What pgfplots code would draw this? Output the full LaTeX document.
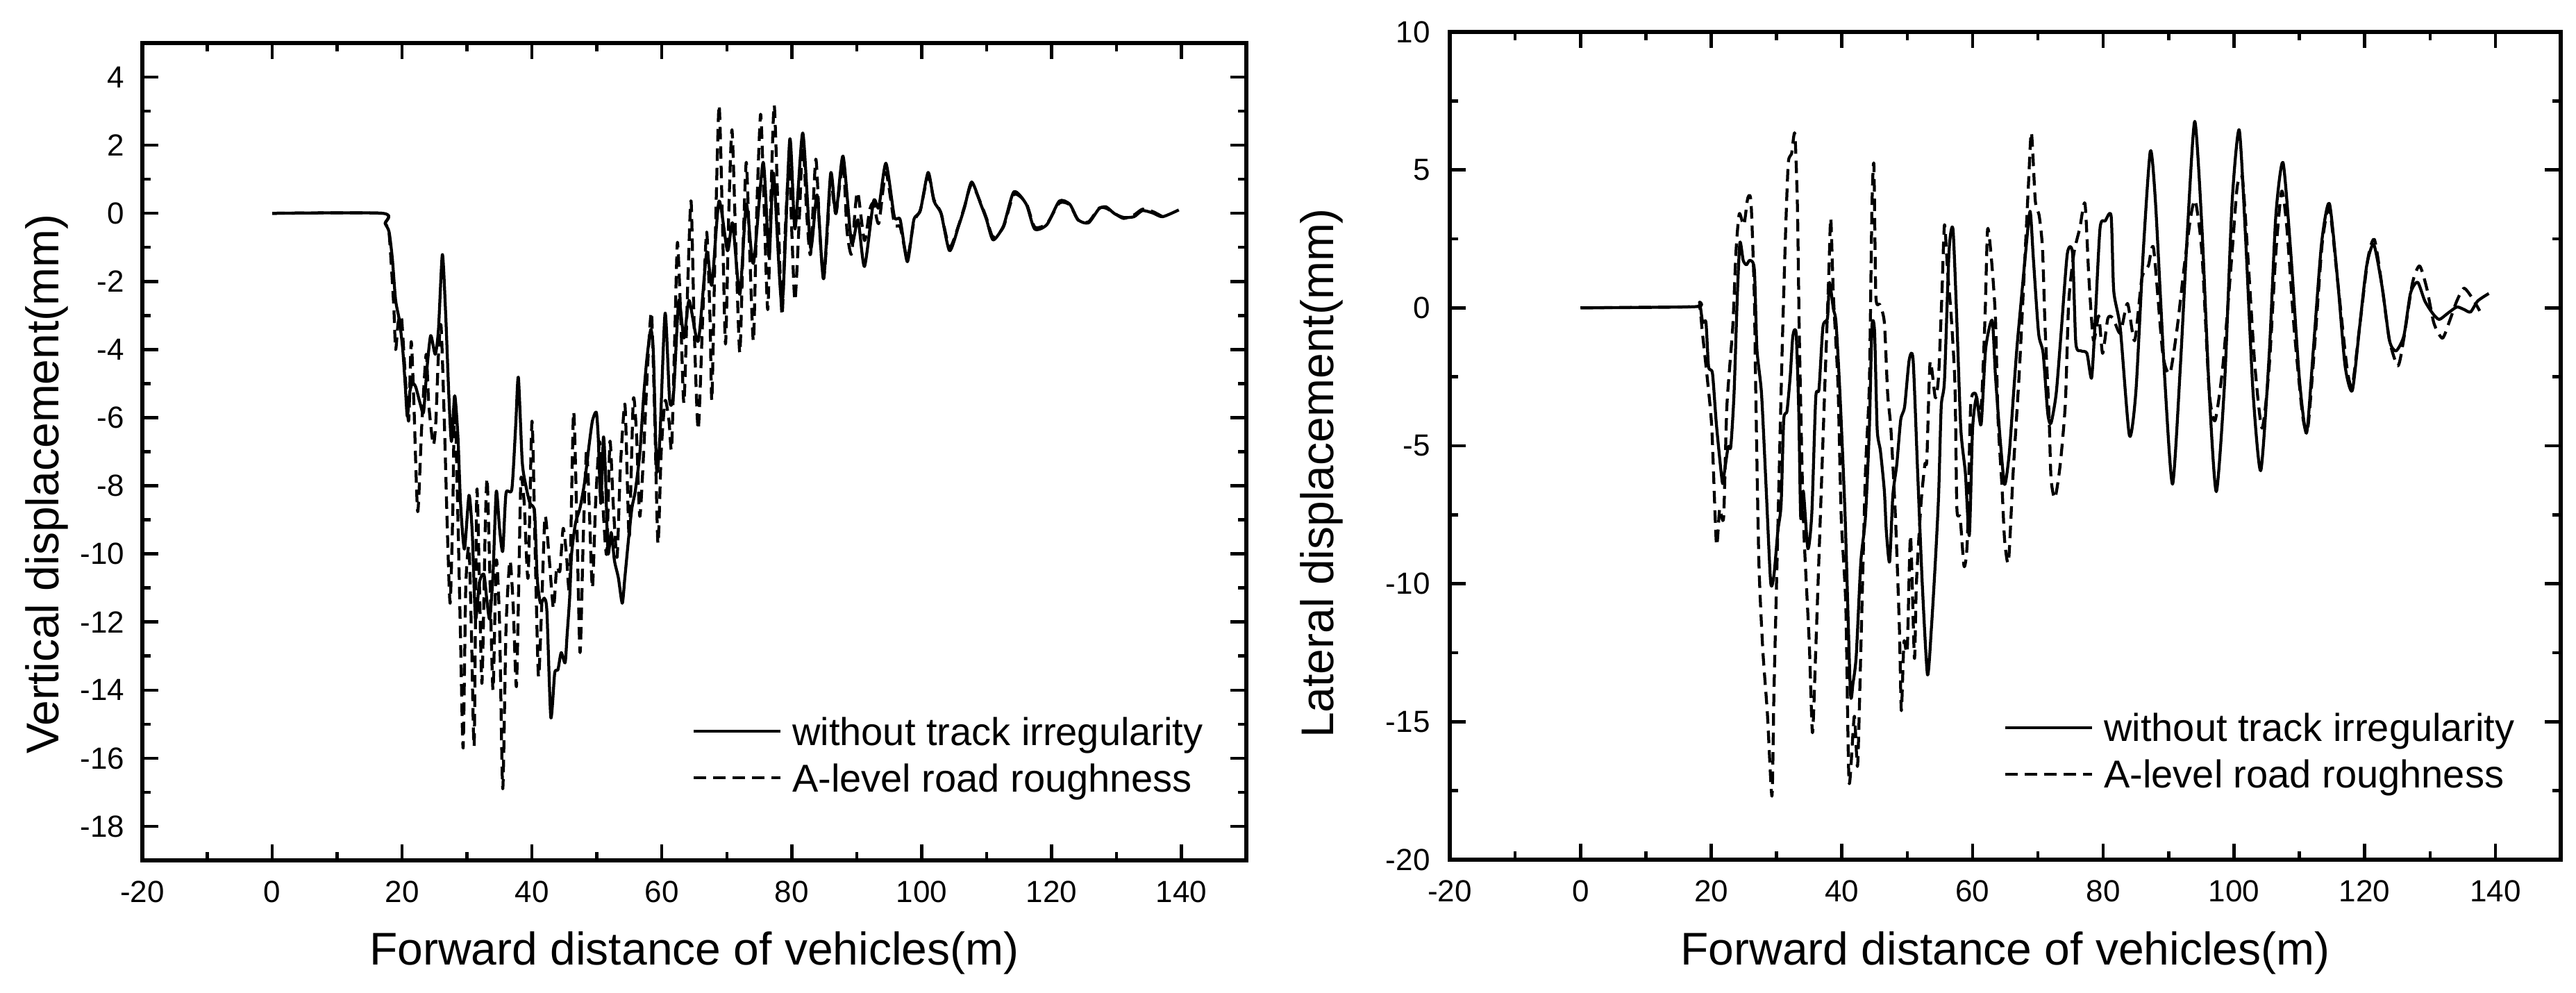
\documentclass[border=0pt]{standalone}
\usepackage{fontspec}
\setmainfont{Liberation Sans}
\usepackage{pgfplots}
\pgfplotsset{compat=1.18}
\pgfplotsset{
  myaxis/.style={
    scale only axis,
    anchor=south west,
    axis line style={line width=1.1pt},
    every tick/.style={line width=0.9pt, black},
    major tick length=4.6pt,
    minor tick length=2.4pt,
    tick align=inside,
    xtick pos=both, ytick pos=both,
    xticklabel pos=lower, yticklabel pos=left,
    /pgf/number format/assume math mode=true,
    ticklabel style={font=\fontsize{8.8}{10}\selectfont},
    xticklabel style={inner sep=0pt, anchor=north, yshift=-5.8pt},
    yticklabel style={inner sep=0pt, anchor=east, xshift=-5pt},
    label style={font=\fontsize{13.2}{15}\selectfont, inner sep=0pt},
    xmin=-20, xmax=150, xtick={-20,0,...,140}, minor x tick num=1,
    xlabel={Forward distance of vehicles(m)},
    legend style={draw=none, fill=none, inner sep=0pt, outer sep=0pt,
      row sep=5.4pt, column sep=3pt,
      font=\fontsize{11.2}{13}\selectfont,
      nodes={inner sep=0pt, text height=8pt, text depth=0pt, anchor=west},
      cells={anchor=west}},
    legend image code/.code={\draw[##1] (0pt,0pt) -- (25pt,0pt);},
    solidline/.style={black, line width=0.85pt, line join=round, smooth, tension=0.4},
    dashline/.style={black, line width=0.85pt, line join=round, smooth, tension=0.4, dash pattern=on 3.6pt off 2pt},
  }
}
\begin{document}
\begin{tikzpicture}
\path[use as bounding box] (0,0) rectangle (742pt,286pt);
% ---------------- left ----------------
\begin{axis}[myaxis,
  at={(41pt,38.2pt)}, width=318pt, height=235.4pt,
  ymin=-19, ymax=5, ytick={-18,-16,...,4}, minor y tick num=1,
  ylabel={Vertical displacement(mm)},
  xlabel style={at={(axis description cs:0.5,-0.1283)}, anchor=base},
  ylabel style={at={(axis description cs:-0.0761,0.4605)}, anchor=base},
  legend style={at={(axis description cs:0.4981,0.1750)}, anchor=north west},
]
\addplot[solidline] coordinates {
(0,0) (17,0) (17.4,-0.3) (18.0,-0.55) (18.5,-1.34) (19.0,-2.55) (19.6,-3.16) (20.1,-4.0) (20.5,-5.1) (20.8,-5.96) (21.2,-5.23) (21.6,-4.99) (22.1,-5.1) (22.8,-5.6) (23.3,-5.84) (23.8,-4.62) (24.4,-3.59) (25.1,-4.14) (25.6,-3.41) (26.2,-1.21) (26.7,-2.92) (27.2,-5.36) (27.6,-6.7) (28.1,-5.36) (28.6,-6.57) (29.0,-8.52) (29.6,-9.86) (30.3,-8.28) (30.8,-9.37) (31.3,-11.9) (31.9,-10.84) (32.6,-10.6) (33.1,-11.45) (33.5,-11.9) (34.0,-10.6) (34.5,-8.16) (35.0,-9.25) (35.5,-9.92) (36.0,-8.22) (36.9,-8.1) (37.5,-6.2) (37.9,-4.81) (38.5,-7.3) (39.1,-8.04) (39.7,-8.52) (40.4,-8.77) (40.8,-10.7) (41.3,-11.45) (41.9,-11.3) (42.3,-11.7) (42.9,-14.8) (43.5,-13.5) (44.0,-13.4) (44.5,-12.9) (45.1,-13.2) (45.4,-12.4) (45.8,-11.3) (46.1,-10.0) (46.7,-9.1) (47.4,-8.65) (48.1,-7.9) (48.8,-6.8) (49.3,-6.1) (49.9,-5.84) (50.2,-6.57) (50.6,-8.52) (51.0,-6.57) (51.3,-7.55) (51.7,-9.98) (52.2,-9.37) (52.7,-10.2) (53.3,-10.7) (53.9,-11.45) (54.3,-10.7) (54.9,-9.5) (55.4,-8.64) (55.9,-8.16) (56.6,-7.06) (57.2,-5.36) (57.7,-4.26) (58.3,-3.41) (58.7,-4.14) (59.2,-7.55) (59.7,-6.57) (60.5,-2.93) (61.2,-5.5) (61.8,-5.3) (62.6,-2.56) (63.4,-3.66) (64.2,-2.56) (65.6,-3.75) (66.9,-1.15) (67.7,-2.1) (68.8,0.36) (70.1,-1.1) (70.9,-0.28) (72.0,-2.38) (73.0,0.27) (74.1,-1.47) (75.6,1.5) (76.5,-1.28) (77.2,1.18) (78.5,-2.7) (79.7,2.18) (80.5,-0.46) (81.7,2.36) (82.9,-1.01) (83.9,0.54) (84.9,-1.92) (86.0,1.18) (86.8,-0.01) (87.9,1.68) (89.2,-0.87) (90.2,-0.19) (91.2,-1.56) (92.6,0.36) (93.4,0.17) (94.5,1.47) (95.8,-0.1) (96.7,-0.19) (97.8,-1.42) (98.8,-0.19) (99.8,0.08) (101.0,1.2) (101.9,0.36) (103.0,-0.01) (104.3,-1.1) (105.7,-0.37) (106.6,0.17) (107.7,0.92) (109.1,0.27) (110.0,-0.19) (111.0,-0.78) (112.6,-0.37) (114.2,0.63) (116.1,0.27) (117.4,-0.46) (119.3,-0.33) (121.2,0.36) (122.8,0.27) (124.1,-0.19) (125.7,-0.28) (127.3,0.13) (128.4,0.19) (129.7,-0.01) (131.1,-0.12) (132.7,-0.1) (134.0,0.08) (135.6,0.01) (137.1,-0.1) (139.6,0.1)
};
\addlegendentry{without track irregularity}
\addplot[dashline] coordinates {
(0,0) (17,0) (17.4,-0.3) (18.0,-0.6) (18.7,-2.67) (19.0,-4.0) (19.4,-3.2) (19.9,-3.04) (20.4,-4.5) (21.0,-6.1) (21.4,-3.77) (21.8,-5.5) (22.4,-8.76) (23.0,-6.33) (23.7,-4.14) (24.1,-5.6) (24.8,-6.8) (25.2,-6.1) (25.6,-4.14) (26.0,-3.3) (26.5,-6.1) (27.0,-9.5) (27.4,-11.45) (27.8,-8.8) (28.1,-5.36) (28.6,-9.0) (29.0,-12.5) (29.4,-15.7) (29.8,-11.0) (30.3,-9.8) (30.7,-12.5) (31.1,-15.6) (31.5,-8.16) (31.9,-10.8) (32.3,-13.8) (32.8,-9.25) (33.1,-7.79) (33.5,-10.5) (34.0,-14.0) (34.5,-10.2) (35.0,-12.0) (35.5,-16.9) (36.0,-12.2) (36.6,-10.2) (37.1,-11.5) (37.6,-13.9) (38.0,-10.5) (38.3,-7.79) (38.8,-8.5) (39.4,-10.7) (40.0,-6.1) (40.5,-10.0) (41.0,-13.6) (41.5,-11.5) (42.0,-8.9) (42.6,-10.0) (43.3,-11.6) (43.8,-10.4) (44.3,-10.5) (44.8,-9.25) (45.3,-10.0) (45.8,-11.0) (46.4,-5.84) (46.9,-9.0) (47.4,-12.9) (47.9,-9.5) (48.4,-6.94) (48.8,-8.5) (49.3,-11.0) (49.8,-8.5) (50.4,-6.7) (50.9,-8.5) (51.5,-10.0) (52.0,-6.7) (52.5,-8.5) (53.1,-10.1) (53.6,-7.5) (54.3,-5.6) (54.7,-8.0) (55.0,-9.5) (55.6,-5.48) (56.1,-6.5) (56.6,-8.9) (57.2,-7.0) (57.8,-4.5) (58.4,-2.92) (58.9,-6.0) (59.4,-9.7) (59.9,-7.0) (60.5,-5.5) (61.1,-6.1) (61.5,-6.9) (62.0,-3.5) (62.4,-0.85) (62.9,-3.0) (63.4,-5.57) (64.0,-2.0) (64.5,0.36) (65.0,-3.5) (65.6,-6.35) (66.3,-3.0) (66.9,-0.55) (67.4,-3.0) (67.7,-5.48) (68.2,-1.0) (68.8,3.18) (69.3,0.0) (69.8,-3.84) (70.3,0.0) (70.8,2.45) (71.4,-1.0) (72.0,-4.1) (72.5,-1.0) (73.0,1.5) (73.5,-1.0) (74.1,-3.75) (74.6,0.0) (75.2,2.91) (75.7,0.5) (76.3,-2.83) (76.8,0.5) (77.3,3.18) (77.9,0.0) (78.5,-3.0) (79.0,-0.5) (79.6,1.5) (80.0,-0.5) (80.5,-2.56) (81.2,0.0) (81.7,2.2) (82.3,0.0) (82.9,-1.2) (83.7,1.59) (84.3,-0.5) (84.9,-1.92) (85.5,-0.5) (86.0,1.0) (86.8,0.0) (87.9,1.5) (88.5,-0.5) (89.2,-1.2) (89.8,0.2) (90.2,0.6) (91.2,-0.8) (92.0,0.1) (92.6,0.3) (93.4,-0.3) (94.5,1.2) (95.8,-0.3) (96.7,-0.4) (97.8,-1.3) (98.8,-0.25) (99.8,0.1) (101.0,1.1) (101.9,0.4) (103.0,0.0) (104.3,-1.0) (105.7,-0.35) (106.6,0.2) (107.7,0.85) (109.1,0.3) (110.0,-0.15) (111.0,-0.7) (112.6,-0.4) (114.2,0.55) (116.1,0.3) (117.4,-0.4) (119.3,-0.3) (121.2,0.3) (122.8,0.25) (124.1,-0.2) (125.7,-0.25) (127.3,0.15) (128.4,0.15) (129.7,0.0) (131.1,-0.15) (132.7,-0.05) (134.0,0.12) (135.6,0.05) (137.1,-0.1)
};
\addlegendentry{A-level road roughness}
\end{axis}
% ---------------- right ----------------
\begin{axis}[myaxis,
  at={(417.6pt,38.4pt)}, width=320pt, height=238.4pt,
  ymin=-20, ymax=10, ytick={-20,-15,...,10}, minor y tick num=1,
  ylabel={Lateral displacement(mm)},
  xlabel style={at={(axis description cs:0.5,-0.1275)}, anchor=base},
  ylabel style={at={(axis description cs:-0.1044,0.467)}, anchor=base},
  yticklabel style={xshift=-0.5pt},
  legend style={at={(axis description cs:0.4988,0.1762)}, anchor=north west},
]
\addplot[solidline] coordinates {
(0,0) (17.4,0.04) (18.2,0.2) (18.7,-0.53) (19.2,-0.53) (19.6,-2.13) (20.2,-2.38) (20.8,-4.23) (21.7,-6.32) (22.0,-6.0) (22.6,-5.03) (23.0,-5.03) (23.5,-3.1) (24.0,0.44) (24.4,2.37) (24.9,1.72) (25.4,1.56) (25.9,1.72) (26.6,1.40) (27.0,-1.49) (27.7,-3.1) (28.4,-6.48) (29.1,-9.94) (29.6,-9.7) (30.2,-8.09) (30.7,-7.12) (31.1,-4.06) (31.6,-3.74) (32.1,-2.46) (32.5,-1.01) (33.0,-0.93) (33.4,-3.74) (33.7,-7.6) (34.1,-6.64) (34.8,-8.73) (35.4,-7.44) (36.0,-3.26) (36.5,-2.94) (37.1,-0.69) (37.8,-0.37) (38.1,0.92) (38.7,-0.04) (39.1,-0.53) (39.7,-3.1) (40.5,-7.6) (41.3,-13.9) (41.7,-13.6) (42.2,-12.6) (42.9,-9.21) (43.6,-7.6) (44.2,-4.39) (44.6,-0.69) (45.0,-0.85) (45.4,-4.39) (45.9,-5.19) (46.5,-6.64) (46.8,-8.09) (47.3,-9.21) (47.8,-6.8) (48.4,-5.68) (49.0,-4.06) (49.6,-3.58) (50.3,-1.89) (50.9,-1.89) (51.6,-6.0) (52.3,-10.0) (53.1,-13.3) (53.7,-11.6) (54.3,-9.21) (54.8,-6.8) (55.2,-3.58) (55.7,-2.62) (56.4,2.05) (57.0,2.85) (57.6,-0.53) (58.2,-4.39) (58.9,-6.0) (59.5,-8.25) (60.0,-4.39) (60.6,-3.26) (61.3,-4.23) (62.0,-1.49) (63.0,-0.45) (63.5,-2.46) (64.2,-4.71) (64.9,-6.4) (65.6,-5.3) (66.3,-3.0) (66.8,-1.4) (67.4,0.16) (68.1,1.97) (68.8,3.5) (69.3,1.79) (70.1,-0.92) (70.8,-1.65) (71.5,-3.82) (72.0,-4.18) (72.8,-3.09) (73.6,-0.74) (74.5,1.97) (75.3,1.97) (75.8,-1.28) (76.6,-1.56) (77.5,-1.65) (78.2,-2.55) (78.7,-0.74) (79.5,2.88) (80.3,3.15) (81.2,3.33) (81.6,0.62) (82.6,-0.74) (84.0,-4.63) (85.0,-3.0) (86.1,1.97) (87.2,5.68) (88.0,3.78) (89.4,-2.55) (90.6,-6.39) (91.8,-2.1) (92.9,2.88) (94.0,6.76) (95.1,2.88) (96.2,-3.0) (97.3,-6.66) (98.6,-2.55) (99.7,3.78) (100.8,6.45) (101.8,2.42) (102.9,-3.0) (104.1,-5.9) (105.4,-1.65) (106.4,3.33) (107.5,5.27) (108.7,1.97) (110.0,-2.55) (111.1,-4.54) (112.1,-1.65) (113.4,2.33) (114.6,3.78) (115.9,0.89) (117.0,-2.1) (118.1,-3.0) (119.2,-0.74) (120.3,1.52) (121.4,2.29) (122.7,0.71) (123.8,-1.19) (124.8,-1.56) (126.0,-1.01) (127.0,0.52) (128.1,0.93) (129.2,0.25) (130.4,-0.2) (131.4,-0.42) (132.7,-0.2) (134.1,0.03) (135.2,-0.06) (136.2,-0.15) (137.3,0.25) (139.0,0.52)
};
\addlegendentry{without track irregularity}
\addplot[dashline] coordinates {
(0,0) (17.4,0.04) (18.2,0.1) (18.7,-1.0) (19.5,-2.78) (20.1,-4.39) (20.8,-8.57) (21.3,-7.28) (21.9,-7.6) (22.4,-3.58) (23.3,-0.69) (23.8,2.05) (24.3,3.41) (25.0,3.0) (25.6,3.98) (26.1,3.82) (26.6,0.44) (26.8,-2.78) (27.3,-9.21) (27.9,-12.4) (28.6,-14.7) (29.3,-17.7) (29.6,-14.0) (30.0,-10.0) (30.4,-6.0) (30.9,-1.17) (31.4,2.85) (31.8,5.26) (32.3,5.58) (32.8,6.31) (33.2,3.66) (33.5,-1.17) (34.1,-7.6) (35.0,-12.1) (35.5,-15.4) (36.0,-12.4) (36.7,-7.6) (37.4,-2.78) (38.0,1.24) (38.3,3.25) (38.7,0.44) (39.4,-2.78) (39.9,-7.6) (40.6,-10.8) (41.1,-17.2) (41.9,-14.8) (42.4,-16.6) (42.9,-12.4) (43.6,-6.0) (44.2,-2.78) (44.6,3.66) (44.9,5.18) (45.2,0.44) (45.8,0.12) (46.5,-0.53) (47.0,-3.1) (47.5,-4.39) (48.2,-7.6) (48.8,-11.6) (49.1,-14.6) (49.5,-12.1) (50.0,-12.4) (50.5,-8.25) (51.1,-12.7) (51.4,-10.0) (52.1,-7.12) (52.7,-5.67) (53.0,-5.51) (53.5,-1.97) (54.3,-3.26) (54.8,-2.46) (55.3,0.44) (55.7,3.01) (56.2,1.24) (56.7,-0.2) (57.3,-2.78) (57.6,-7.28) (58.1,-7.6) (58.7,-9.37) (59.2,-8.41) (59.7,-3.58) (60.4,-3.1) (61.3,-3.58) (61.9,-0.37) (62.3,2.85) (62.9,1.72) (63.5,-0.37) (63.9,-4.06) (64.5,-6.48) (64.9,-8.41) (65.5,-9.2) (66.2,-6.0) (67.2,-2.1) (68.5,4.23) (69.0,6.36) (69.6,3.87) (70.2,3.33) (70.7,2.15) (71.1,-0.74) (71.7,-3.9) (72.0,-6.17) (72.6,-6.9) (73.4,-5.7) (74.2,-3.45) (74.7,0.16) (75.5,1.97) (76.4,2.88) (77.2,3.78) (77.8,1.07) (78.5,-1.19) (79.3,-0.29) (79.9,-1.65) (80.7,-0.38) (81.5,-0.38) (82.6,-0.92) (83.7,0.16) (84.8,-1.19) (85.9,1.07) (86.9,1.52) (87.7,2.15) (89.1,-1.65) (90.2,-2.37) (91.3,-0.74) (92.4,1.52) (93.4,3.33) (94.1,3.87) (95.1,1.97) (96.2,-3.0) (97.1,-4.09) (98.3,-2.1) (99.7,1.97) (100.5,4.41) (101.3,4.68) (102.1,1.97) (103.2,-2.1) (104.3,-4.36) (105.4,-2.1) (106.4,1.97) (107.3,4.23) (108.1,2.88) (109.2,-0.74) (110.5,-3.9) (111.3,-4.36) (112.4,-1.19) (113.5,2.33) (114.6,3.6) (115.9,0.89) (117.3,-2.19) (118.1,-2.82) (119.2,-0.74) (120.5,1.79) (121.5,2.47) (122.7,0.71) (123.8,-1.19) (125.1,-2.1) (126.0,-1.1) (127.3,0.89) (128.4,1.52) (129.5,0.71) (130.6,-0.56) (131.9,-1.1) (133.0,-0.47) (134.1,0.25) (135.2,0.71) (136.5,0.34) (137.6,-0.11)
};
\addlegendentry{A-level road roughness}
\end{axis}
\end{tikzpicture}
\end{document}
